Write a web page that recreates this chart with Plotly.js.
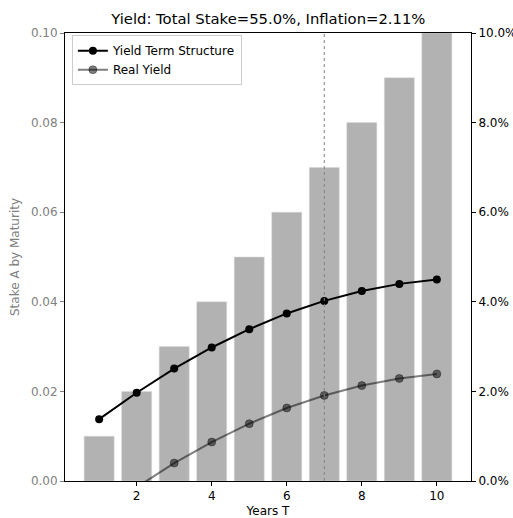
<!DOCTYPE html>
<html>
<head>
<meta charset="utf-8">
<script src="https://cdn.plot.ly/plotly-3.0.1.min.js"></script>
<style>html,body{margin:0;padding:0;background:#fff}#chart{width:513px;height:518px}</style>
</head>
<body>
<div id="chart"></div>
<script>
const years = [1, 2, 3, 4, 5, 6, 7, 8, 9, 10];
const stakes = [0.01, 0.02, 0.03, 0.04, 0.05, 0.06, 0.07, 0.08, 0.09, 0.10];
const yieldTerm = [0.0138, 0.0197, 0.0251, 0.0298, 0.0339, 0.0374, 0.0402, 0.0424, 0.0440, 0.0450];
const realYield = [-0.0073, -0.0014, 0.0040, 0.0087, 0.0128, 0.0163, 0.0191, 0.0213, 0.0229, 0.0239];
const markerYear = 7;
const titleText = 'Yield: Total Stake=55.0%, Inflation=2.11%';

const font = 'DejaVu Sans, sans-serif';

const traces = [
  {
    type: 'bar', x: years, y: stakes, yaxis: 'y', showlegend: false,
    marker: {color: '#b2b2b2', line: {color: '#d8d8d8', width: 0.5}},
    width: 0.8, hoverinfo: 'skip'
  },
  {
    type: 'scatter', mode: 'lines+markers', x: years, y: yieldTerm, yaxis: 'y2',
    name: 'Yield Term Structure',
    line: {color: '#000000', width: 2},
    marker: {color: '#000000', size: 8}
  },
  {
    type: 'scatter', mode: 'lines+markers', x: years, y: realYield, yaxis: 'y2',
    name: 'Real Yield',
    line: {color: 'rgba(0,0,0,0.5)', width: 2},
    marker: {color: 'rgba(0,0,0,0.5)', size: 8, line: {color: 'rgba(0,0,0,0.35)', width: 1}}
  }
];

const layout = {
  width: 513, height: 518,
  margin: {l: 65, r: 42, t: 33, b: 37, pad: 0},
  paper_bgcolor: '#ffffff', plot_bgcolor: '#ffffff',
  font: {family: font, size: 12, color: '#000'},
  title: {text: titleText, x: 0.523, xanchor: 'center', y: 0.963, yanchor: 'middle',
          font: {family: font, size: 14.8, color: '#000'}},
  bargap: 0.2,
  showlegend: true,
  legend: {x: 0.017, y: 0.995, xanchor: 'left', yanchor: 'top',
           bgcolor: 'rgba(255,255,255,0.8)', bordercolor: '#cccccc', borderwidth: 1,
           font: {family: font, size: 12, color: '#000'}, tracegroupgap: 0, itemwidth: 30},
  xaxis: {
    range: [0.09, 10.91], tickvals: [2, 4, 6, 8, 10], ticktext: ['2', '4', '6', '8', '10'],
    showgrid: false, zeroline: false, showline: true, linecolor: '#000', linewidth: 1, mirror: true,
    ticks: 'outside', ticklen: 4, tickcolor: '#000', tickfont: {family: font, size: 12, color: '#000'},
    title: {text: 'Years T', font: {family: font, size: 12, color: '#000'}, standoff: 4}
  },
  yaxis: {
    range: [0, 0.1], tickvals: [0, 0.02, 0.04, 0.06, 0.08, 0.10],
    ticktext: ['0.00', '0.02', '0.04', '0.06', '0.08', '0.10'],
    showgrid: false, zeroline: false, showline: true, linecolor: '#000', linewidth: 1,
    ticks: 'outside', ticklen: 4, tickcolor: '#808080',
    tickfont: {family: font, size: 12, color: '#808080'},
    title: {text: 'Stake A by Maturity', font: {family: font, size: 12, color: '#808080'}, standoff: 8}
  },
  yaxis2: {
    overlaying: 'y', side: 'right', range: [0, 0.1],
    tickvals: [0, 0.02, 0.04, 0.06, 0.08, 0.10], tickformat: '.1%',
    showgrid: false, zeroline: false, showline: true, linecolor: '#000', linewidth: 1,
    ticks: 'outside', ticklen: 4, tickcolor: '#000',
    tickfont: {family: font, size: 12, color: '#000'}
  },
  shapes: [{
    type: 'line', xref: 'x', yref: 'paper', x0: markerYear, x1: markerYear, y0: 0, y1: 1,
    line: {color: '#808080', width: 1, dash: 'dot'}, layer: 'above'
  }]
};

Plotly.newPlot('chart', traces, layout, {displayModeBar: false, staticPlot: true});
</script>
</body>
</html>
